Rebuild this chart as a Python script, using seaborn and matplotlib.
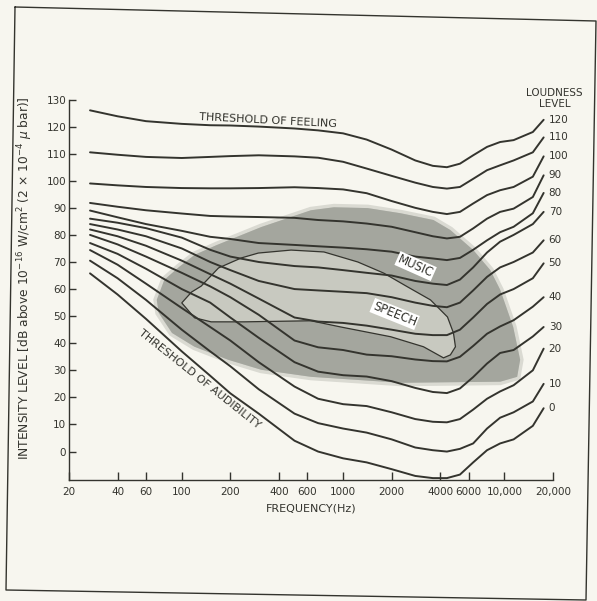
import matplotlib
matplotlib.use("Agg")
import matplotlib.pyplot as plt
import pandas as pd
import seaborn as sns
from matplotlib.lines import Line2D
from matplotlib.ticker import NullLocator

# frequencies (Hz) at which the loudness contours were read
freq = [27, 40, 60, 100, 150, 200, 300, 500, 700, 1000, 1400, 2000,
        2800, 3600, 4400, 5300, 6400, 7800, 9400, 11400, 15000, 17500]

# intensity level (dB) of each equal-loudness contour
db_120 = [126, 123.8, 122, 121, 120.5, 120.4, 120, 119.3, 118.6, 117.5, 115.2, 111.5,
          107.5, 105.5, 105, 106.3, 109.4, 112.5, 114.3, 115, 118, 122.5]
db_110 = [110.5, 109.6, 108.8, 108.4, 108.8, 109.1, 109.4, 109, 108.5, 107, 104.5, 101.8,
          99.3, 97.7, 97.1, 97.7, 100.7, 103.9, 105.7, 107.5, 110.5, 116]
db_100 = [99, 98.3, 97.7, 97.3, 97.2, 97.2, 97.3, 97.6, 97.3, 96.8, 95.4, 92.5,
          90, 88.5, 87.7, 88.5, 91.6, 94.7, 96.5, 97.7, 101.5, 109]
db_90 = [91.8, 90.4, 89.1, 87.9, 87, 86.8, 86.6, 86.3, 85.5, 85, 84.2, 83,
         81, 79.5, 78.7, 79.3, 82.4, 86, 88.5, 89.7, 94, 102]
db_80 = [89, 86.5, 84, 81.5, 79.3, 78.5, 77, 76.3, 75.8, 75.3, 74.7, 73.8,
         72, 71.3, 70.7, 71.5, 74.5, 78, 81, 83, 88, 95.5]
db_70 = [86, 84.5, 82.5, 79, 74.5, 72, 70, 68.5, 68, 67, 66, 65,
         63, 62, 61.5, 63.5, 68, 73.5, 77.5, 80, 84, 88.5]
db_60 = [84, 82, 79.5, 75, 70, 67, 63, 60, 59.5, 59, 58.5, 57,
         55, 53.8, 53.3, 55, 59.5, 64.5, 68, 70, 73.5, 78]
db_50 = [82, 79.5, 76, 70.5, 65.5, 62, 56.5, 49.5, 48, 47.5, 46.5, 45,
         43.5, 43, 43, 45, 49.5, 54.5, 58, 60, 64, 69.5]
db_40 = [80, 76.5, 72, 66, 61, 57, 50.5, 41, 38.5, 37.5, 35.8, 35.2,
         34, 33.4, 33.3, 35, 39, 43.5, 46.2, 48.5, 53.5, 57]
db_30 = [77, 73, 67.5, 60, 55, 49.5, 42, 33, 29.5, 28.2, 27.7, 26,
         23.5, 22, 21.6, 23.3, 27.5, 32.5, 36.4, 37.5, 42.5, 46]
db_20 = [74.4, 69, 62, 53, 46, 41, 33, 24, 19.5, 17.5, 16.8, 14.5,
         12, 11, 10.8, 12, 15.5, 19.5, 22.2, 24.5, 30, 38]
db_10 = [70.5, 64, 56, 45, 37, 31.5, 23, 14, 10.5, 8.5, 7, 4.5,
         1.5, 0.5, 0, 1, 3, 8.5, 12.5, 14.5, 18.5, 25]
db_0 = [65.8, 58, 49, 37, 28, 21.5, 14, 4, 0, -2.5, -4, -6.5,
        -9, -9.8, -9.8, -8.5, -4, 0.5, 3, 4.5, 9.5, 16]

levels = [120, 110, 100, 90, 80, 70, 60, 50, 40, 30, 20, 10, 0]
curves = [db_120, db_110, db_100, db_90, db_80, db_70, db_60,
          db_50, db_40, db_30, db_20, db_10, db_0]

# outline of the music area (dark shading)
music_freq = [70, 78, 96, 120, 164, 311, 632, 877, 1420, 2270, 3630, 4620, 6410,
              8170, 9420, 11330, 12510, 11990, 9420, 2270, 632, 311, 194, 120, 87, 72]
music_db = [56, 63.4, 68.1, 72.6, 76.2, 82.9, 89.1, 90.2, 89.9, 88, 85.5, 81.8, 74.4,
            67, 59.7, 46, 33.9, 27.6, 25.8, 25.4, 27.6, 30.2, 33.9, 38.7, 43.8, 51.2]

# outline of the speech area (light shading)
speech_freq = [100, 115, 132, 169, 234, 298, 476, 761, 1234, 1785, 2511, 3480,
               4435, 4830, 4970, 4624, 4190, 3150, 1972, 968, 632, 244, 152, 120]
speech_db = [54.9, 58.9, 61.1, 67.8, 71.5, 73.3, 74.4, 73.7, 70, 65.9, 60.8, 56,
             49.7, 43.8, 38.7, 35.7, 34.6, 38.7, 42.4, 46, 48.3, 47.9, 47.9, 49.4]

tick_freqs = [20, 40, 60, 100, 200, 400, 600, 1000, 2000, 4000, 6000, 10000, 20000]
tick_labels = ["20", "40", "60", "100", "200", "400", "600", "1000", "2000",
               "4000", "6000", "10,000", "20,000"]
db_ticks = list(range(0, 131, 10))

paper = "#f7f6ef"
ink = "#34342e"
music_col = "#a4a69e"
speech_col = "#c8c9c0"

sns.set_theme(style="ticks")
plt.rcParams["font.family"] = ["DejaVu Sans"]

fig = plt.figure(figsize=(5.97, 6.01), dpi=100, facecolor=paper)
ax = fig.add_axes([69 / 597, 1 - 480 / 601, 484 / 597, 380.5 / 601])
ax.set_facecolor(paper)
ax.set_xscale("log")

# shaded regions
ax.fill(music_freq, music_db, facecolor=music_col, edgecolor=music_col,
        lw=5, alpha=0.35, zorder=1)
ax.fill(music_freq, music_db, facecolor=music_col, lw=0, zorder=1)
ax.fill(speech_freq, speech_db, facecolor=speech_col, edgecolor=ink, lw=0.9, zorder=2)

rows = []
for lvl, vals in zip(levels, curves):
    for f, v in zip(freq, vals):
        rows.append({"freq": f, "db": v, "level": lvl})
df = pd.DataFrame(rows)

sns.lineplot(data=df, x="freq", y="db", hue="level",
             palette={lvl: ink for lvl in levels},
             estimator=None, sort=False, legend=False,
             lw=1.4, ax=ax, zorder=3)

# loudness level labels at the right end of each curve
for lvl, vals in zip(levels, curves):
    ax.text(18800, vals[-1], str(lvl), fontsize=7.5, color=ink,
            ha="left", va="center", clip_on=False)
ax.text(20500, 130.3, "LOUDNESS\nLEVEL", fontsize=7.5, color=ink,
        ha="center", va="center", linespacing=1.15, clip_on=False)

ax.text(341, 122.3, "THRESHOLD OF FEELING", fontsize=8, color=ink,
        rotation=-3, ha="center", va="center")
ax.text(129, 26.9, "THRESHOLD OF AUDIBILITY", fontsize=8, color=ink,
        rotation=-38.5, ha="center", va="center")
ax.text(2815, 68.5, "MUSIC", fontsize=8.5, color=ink, rotation=-24,
        ha="center", va="center", zorder=4,
        bbox=dict(facecolor="white", edgecolor="none", pad=0.8))
ax.text(2087, 50.8, "SPEECH", fontsize=8.5, color=ink, rotation=-22,
        ha="center", va="center", zorder=4,
        bbox=dict(facecolor="white", edgecolor="none", pad=0.8))

ax.set_xlim(20, 20000)
ax.set_ylim(-10.5, 130)
ax.set_xticks(tick_freqs)
ax.set_xticklabels(tick_labels)
ax.xaxis.set_minor_locator(NullLocator())
ax.set_yticks(db_ticks)
ax.tick_params(axis="x", direction="in", length=6, width=1, color=ink,
               labelsize=7.5, labelcolor=ink, pad=5)
ax.tick_params(axis="y", direction="in", length=5, width=1, color=ink,
               labelsize=7.5, labelcolor=ink, pad=2)
sns.despine(ax=ax)
for side in ["left", "bottom"]:
    ax.spines[side].set_color(ink)
    ax.spines[side].set_linewidth(1)

ax.set_xlabel("FREQUENCY(Hz)", fontsize=8, color=ink, labelpad=5)
ax.set_ylabel(r"INTENSITY LEVEL [dB above 10$^{-16}$ W/cm$^{2}$ (2 × 10$^{-4}$ $\mu$ bar)]",
              fontsize=8.8, color=ink)
ax.yaxis.set_label_coords(-0.07, 0.53)

# scanned page frame (slightly skewed)
fx = [15, 596, 586, 6, 15]
fy = [7, 21, 600, 590, 7]
fig.add_artist(Line2D([x / 597 for x in fx], [1 - y / 601 for y in fy],
                      transform=fig.transFigure, color=ink, lw=1))

fig.savefig("out.png", dpi=100, facecolor=paper)
